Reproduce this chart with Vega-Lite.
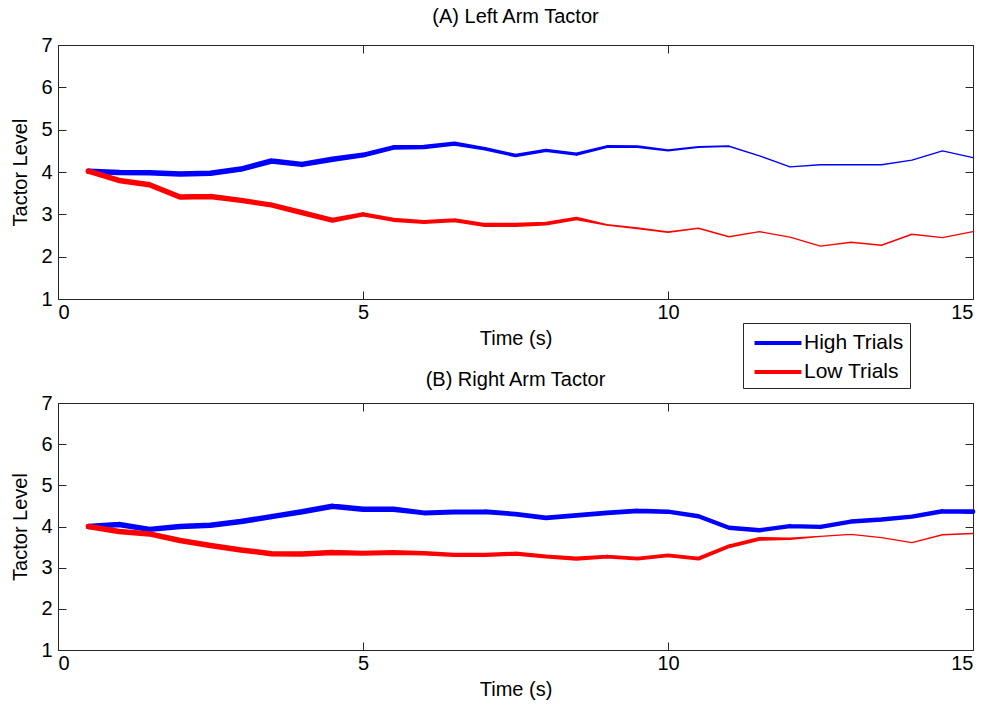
{
  "$schema": "https://vega.github.io/schema/vega-lite/v6.json",
  "background": "white",
  "padding": {"left": 10, "top": 7, "right": 5, "bottom": 5},
  "config": {
    "font": "Liberation Sans",
    "view": {"stroke": null},
    "axis": {"grid": false, "domainColor": "#262626", "tickColor": "#262626", "labelColor": "#000", "titleColor": "#000", "labelFontSize": 20, "titleFontSize": 20, "titleFontWeight": "normal", "tickSize": -8, "labelPadding": 14},
    "axisX": {"labelPadding": 11},
    "title": {"fontSize": 20, "fontWeight": "normal", "color": "#000"}
  },
  "datasets": {
    "tactor": [
      {"panel": "A", "group": "High Trials", "time": 0.5, "level": 4.02, "trials": 20},
      {"panel": "A", "group": "High Trials", "time": 1.0, "level": 3.99, "trials": 20},
      {"panel": "A", "group": "High Trials", "time": 1.5, "level": 3.98, "trials": 20},
      {"panel": "A", "group": "High Trials", "time": 2.0, "level": 3.95, "trials": 20},
      {"panel": "A", "group": "High Trials", "time": 2.5, "level": 3.97, "trials": 20},
      {"panel": "A", "group": "High Trials", "time": 3.0, "level": 4.07, "trials": 20},
      {"panel": "A", "group": "High Trials", "time": 3.5, "level": 4.26, "trials": 20},
      {"panel": "A", "group": "High Trials", "time": 4.0, "level": 4.18, "trials": 20},
      {"panel": "A", "group": "High Trials", "time": 4.5, "level": 4.30, "trials": 20},
      {"panel": "A", "group": "High Trials", "time": 5.0, "level": 4.40, "trials": 18},
      {"panel": "A", "group": "High Trials", "time": 5.5, "level": 4.58, "trials": 17},
      {"panel": "A", "group": "High Trials", "time": 6.0, "level": 4.59, "trials": 17},
      {"panel": "A", "group": "High Trials", "time": 6.5, "level": 4.67, "trials": 15},
      {"panel": "A", "group": "High Trials", "time": 7.0, "level": 4.55, "trials": 13},
      {"panel": "A", "group": "High Trials", "time": 7.5, "level": 4.39, "trials": 13},
      {"panel": "A", "group": "High Trials", "time": 8.0, "level": 4.51, "trials": 12},
      {"panel": "A", "group": "High Trials", "time": 8.5, "level": 4.42, "trials": 12},
      {"panel": "A", "group": "High Trials", "time": 9.0, "level": 4.60, "trials": 11},
      {"panel": "A", "group": "High Trials", "time": 9.5, "level": 4.60, "trials": 10},
      {"panel": "A", "group": "High Trials", "time": 10.0, "level": 4.51, "trials": 8},
      {"panel": "A", "group": "High Trials", "time": 10.5, "level": 4.59, "trials": 7},
      {"panel": "A", "group": "High Trials", "time": 11.0, "level": 4.61, "trials": 6},
      {"panel": "A", "group": "High Trials", "time": 11.5, "level": 4.38, "trials": 5},
      {"panel": "A", "group": "High Trials", "time": 12.0, "level": 4.12, "trials": 5},
      {"panel": "A", "group": "High Trials", "time": 12.5, "level": 4.17, "trials": 5},
      {"panel": "A", "group": "High Trials", "time": 13.0, "level": 4.17, "trials": 5},
      {"panel": "A", "group": "High Trials", "time": 13.5, "level": 4.17, "trials": 5},
      {"panel": "A", "group": "High Trials", "time": 14.0, "level": 4.28, "trials": 5},
      {"panel": "A", "group": "High Trials", "time": 14.5, "level": 4.50, "trials": 5},
      {"panel": "A", "group": "High Trials", "time": 15.0, "level": 4.34, "trials": 5},
      {"panel": "A", "group": "Low Trials", "time": 0.5, "level": 4.02, "trials": 20},
      {"panel": "A", "group": "Low Trials", "time": 1.0, "level": 3.80, "trials": 20},
      {"panel": "A", "group": "Low Trials", "time": 1.5, "level": 3.70, "trials": 20},
      {"panel": "A", "group": "Low Trials", "time": 2.0, "level": 3.41, "trials": 20},
      {"panel": "A", "group": "Low Trials", "time": 2.5, "level": 3.42, "trials": 20},
      {"panel": "A", "group": "Low Trials", "time": 3.0, "level": 3.33, "trials": 19},
      {"panel": "A", "group": "Low Trials", "time": 3.5, "level": 3.22, "trials": 19},
      {"panel": "A", "group": "Low Trials", "time": 4.0, "level": 3.04, "trials": 19},
      {"panel": "A", "group": "Low Trials", "time": 4.5, "level": 2.86, "trials": 18},
      {"panel": "A", "group": "Low Trials", "time": 5.0, "level": 3.00, "trials": 16},
      {"panel": "A", "group": "Low Trials", "time": 5.5, "level": 2.87, "trials": 15},
      {"panel": "A", "group": "Low Trials", "time": 6.0, "level": 2.82, "trials": 15},
      {"panel": "A", "group": "Low Trials", "time": 6.5, "level": 2.86, "trials": 15},
      {"panel": "A", "group": "Low Trials", "time": 7.0, "level": 2.75, "trials": 15},
      {"panel": "A", "group": "Low Trials", "time": 7.5, "level": 2.75, "trials": 15},
      {"panel": "A", "group": "Low Trials", "time": 8.0, "level": 2.78, "trials": 14},
      {"panel": "A", "group": "Low Trials", "time": 8.5, "level": 2.90, "trials": 13},
      {"panel": "A", "group": "Low Trials", "time": 9.0, "level": 2.75, "trials": 7},
      {"panel": "A", "group": "Low Trials", "time": 9.5, "level": 2.67, "trials": 7},
      {"panel": "A", "group": "Low Trials", "time": 10.0, "level": 2.58, "trials": 6},
      {"panel": "A", "group": "Low Trials", "time": 10.5, "level": 2.67, "trials": 6},
      {"panel": "A", "group": "Low Trials", "time": 11.0, "level": 2.47, "trials": 5},
      {"panel": "A", "group": "Low Trials", "time": 11.5, "level": 2.59, "trials": 5},
      {"panel": "A", "group": "Low Trials", "time": 12.0, "level": 2.46, "trials": 5},
      {"panel": "A", "group": "Low Trials", "time": 12.5, "level": 2.25, "trials": 5},
      {"panel": "A", "group": "Low Trials", "time": 13.0, "level": 2.34, "trials": 5},
      {"panel": "A", "group": "Low Trials", "time": 13.5, "level": 2.27, "trials": 5},
      {"panel": "A", "group": "Low Trials", "time": 14.0, "level": 2.53, "trials": 5},
      {"panel": "A", "group": "Low Trials", "time": 14.5, "level": 2.45, "trials": 5},
      {"panel": "A", "group": "Low Trials", "time": 15.0, "level": 2.59, "trials": 5},
      {"panel": "B", "group": "High Trials", "time": 0.5, "level": 4.00, "trials": 20},
      {"panel": "B", "group": "High Trials", "time": 1.0, "level": 4.05, "trials": 20},
      {"panel": "B", "group": "High Trials", "time": 1.5, "level": 3.93, "trials": 20},
      {"panel": "B", "group": "High Trials", "time": 2.0, "level": 4.00, "trials": 20},
      {"panel": "B", "group": "High Trials", "time": 2.5, "level": 4.03, "trials": 20},
      {"panel": "B", "group": "High Trials", "time": 3.0, "level": 4.12, "trials": 20},
      {"panel": "B", "group": "High Trials", "time": 3.5, "level": 4.24, "trials": 20},
      {"panel": "B", "group": "High Trials", "time": 4.0, "level": 4.36, "trials": 20},
      {"panel": "B", "group": "High Trials", "time": 4.5, "level": 4.49, "trials": 20},
      {"panel": "B", "group": "High Trials", "time": 5.0, "level": 4.42, "trials": 20},
      {"panel": "B", "group": "High Trials", "time": 5.5, "level": 4.42, "trials": 20},
      {"panel": "B", "group": "High Trials", "time": 6.0, "level": 4.33, "trials": 18},
      {"panel": "B", "group": "High Trials", "time": 6.5, "level": 4.35, "trials": 18},
      {"panel": "B", "group": "High Trials", "time": 7.0, "level": 4.36, "trials": 18},
      {"panel": "B", "group": "High Trials", "time": 7.5, "level": 4.30, "trials": 17},
      {"panel": "B", "group": "High Trials", "time": 8.0, "level": 4.21, "trials": 17},
      {"panel": "B", "group": "High Trials", "time": 8.5, "level": 4.27, "trials": 17},
      {"panel": "B", "group": "High Trials", "time": 9.0, "level": 4.33, "trials": 17},
      {"panel": "B", "group": "High Trials", "time": 9.5, "level": 4.38, "trials": 17},
      {"panel": "B", "group": "High Trials", "time": 10.0, "level": 4.36, "trials": 16},
      {"panel": "B", "group": "High Trials", "time": 10.5, "level": 4.25, "trials": 16},
      {"panel": "B", "group": "High Trials", "time": 11.0, "level": 3.97, "trials": 16},
      {"panel": "B", "group": "High Trials", "time": 11.5, "level": 3.91, "trials": 16},
      {"panel": "B", "group": "High Trials", "time": 12.0, "level": 4.01, "trials": 16},
      {"panel": "B", "group": "High Trials", "time": 12.5, "level": 3.99, "trials": 16},
      {"panel": "B", "group": "High Trials", "time": 13.0, "level": 4.12, "trials": 16},
      {"panel": "B", "group": "High Trials", "time": 13.5, "level": 4.17, "trials": 16},
      {"panel": "B", "group": "High Trials", "time": 14.0, "level": 4.24, "trials": 16},
      {"panel": "B", "group": "High Trials", "time": 14.5, "level": 4.37, "trials": 17},
      {"panel": "B", "group": "High Trials", "time": 15.0, "level": 4.36, "trials": 17},
      {"panel": "B", "group": "Low Trials", "time": 0.5, "level": 4.00, "trials": 20},
      {"panel": "B", "group": "Low Trials", "time": 1.0, "level": 3.88, "trials": 20},
      {"panel": "B", "group": "Low Trials", "time": 1.5, "level": 3.82, "trials": 20},
      {"panel": "B", "group": "Low Trials", "time": 2.0, "level": 3.66, "trials": 20},
      {"panel": "B", "group": "Low Trials", "time": 2.5, "level": 3.54, "trials": 20},
      {"panel": "B", "group": "Low Trials", "time": 3.0, "level": 3.43, "trials": 20},
      {"panel": "B", "group": "Low Trials", "time": 3.5, "level": 3.34, "trials": 20},
      {"panel": "B", "group": "Low Trials", "time": 4.0, "level": 3.33, "trials": 20},
      {"panel": "B", "group": "Low Trials", "time": 4.5, "level": 3.37, "trials": 20},
      {"panel": "B", "group": "Low Trials", "time": 5.0, "level": 3.35, "trials": 19},
      {"panel": "B", "group": "Low Trials", "time": 5.5, "level": 3.37, "trials": 18},
      {"panel": "B", "group": "Low Trials", "time": 6.0, "level": 3.35, "trials": 17},
      {"panel": "B", "group": "Low Trials", "time": 6.5, "level": 3.31, "trials": 16},
      {"panel": "B", "group": "Low Trials", "time": 7.0, "level": 3.31, "trials": 16},
      {"panel": "B", "group": "Low Trials", "time": 7.5, "level": 3.34, "trials": 15},
      {"panel": "B", "group": "Low Trials", "time": 8.0, "level": 3.27, "trials": 15},
      {"panel": "B", "group": "Low Trials", "time": 8.5, "level": 3.22, "trials": 15},
      {"panel": "B", "group": "Low Trials", "time": 9.0, "level": 3.27, "trials": 14},
      {"panel": "B", "group": "Low Trials", "time": 9.5, "level": 3.22, "trials": 14},
      {"panel": "B", "group": "Low Trials", "time": 10.0, "level": 3.30, "trials": 14},
      {"panel": "B", "group": "Low Trials", "time": 10.5, "level": 3.22, "trials": 14},
      {"panel": "B", "group": "Low Trials", "time": 11.0, "level": 3.52, "trials": 14},
      {"panel": "B", "group": "Low Trials", "time": 11.5, "level": 3.70, "trials": 14},
      {"panel": "B", "group": "Low Trials", "time": 12.0, "level": 3.70, "trials": 9},
      {"panel": "B", "group": "Low Trials", "time": 12.5, "level": 3.76, "trials": 5},
      {"panel": "B", "group": "Low Trials", "time": 13.0, "level": 3.81, "trials": 5},
      {"panel": "B", "group": "Low Trials", "time": 13.5, "level": 3.73, "trials": 5},
      {"panel": "B", "group": "Low Trials", "time": 14.0, "level": 3.61, "trials": 5},
      {"panel": "B", "group": "Low Trials", "time": 14.5, "level": 3.80, "trials": 5},
      {"panel": "B", "group": "Low Trials", "time": 15.0, "level": 3.83, "trials": 5}
    ]
  },
  "data": {"name": "tactor"},
  "spacing": 104,
  "bounds": "flush",
  "resolve": {"legend": {"color": "independent", "size": "independent"}},
  "vconcat": [
    {
      "width": 915,
      "height": 254,
      "title": {"text": "(A) Left Arm Tactor", "offset": 8},
      "transform": [{"filter": "datum.panel === 'A'"}],
      "layer": [
        {
          "mark": {"type": "trail"},
          "encoding": {
            "x": {"field": "time", "type": "quantitative", "scale": {"domain": [0, 15], "nice": false}, "axis": {"values": [0, 5, 10, 15], "title": "Time (s)", "titlePadding": 6}},
            "y": {"field": "level", "type": "quantitative", "scale": {"domain": [1, 7], "nice": false}, "axis": {"values": [1, 2, 3, 4, 5, 6, 7], "title": "Tactor Level", "titlePadding": 10}},
            "color": {"field": "group", "type": "nominal", "scale": {"domain": ["High Trials", "Low Trials"], "range": ["#0000ff", "#ff0000"]},
              "legend": {"orient": "none", "legendX": 685, "legendY": 278, "title": null, "strokeColor": "#262626", "fillColor": "#ffffff", "padding": 6, "labelFontSize": 21, "labelFont": "Liberation Sans", "labelColor": "#000", "symbolType": "M-2,0H2", "symbolStrokeWidth": 4, "symbolSize": 550, "symbolOffset": 15, "rowPadding": 5, "labelOffset": 12}},
            "size": {"field": "trials", "type": "quantitative", "scale": {"domain": [0, 20], "range": [0, 5.5]}, "legend": null},
            "order": {"field": "time", "type": "quantitative"}
          }
        },
        {
          "mark": {"type": "point", "opacity": 0},
          "encoding": {
            "x": {"field": "time", "type": "quantitative", "axis": {"orient": "top", "values": [0, 5, 10, 15], "labels": false, "title": null}},
            "y": {"field": "level", "type": "quantitative", "axis": {"orient": "right", "values": [1, 2, 3, 4, 5, 6, 7], "labels": false, "title": null}}
          }
        }
      ],
      "resolve": {"axis": {"x": "independent", "y": "independent"}}
    },
    {
      "width": 915,
      "height": 247,
      "title": {"text": "(B) Right Arm Tactor", "offset": 3},
      "transform": [{"filter": "datum.panel === 'B'"}],
      "layer": [
        {
          "mark": {"type": "trail"},
          "encoding": {
            "x": {"field": "time", "type": "quantitative", "scale": {"domain": [0, 15], "nice": false}, "axis": {"values": [0, 5, 10, 15], "title": "Time (s)", "titlePadding": 6}},
            "y": {"field": "level", "type": "quantitative", "scale": {"domain": [1, 7], "nice": false}, "axis": {"values": [1, 2, 3, 4, 5, 6, 7], "title": "Tactor Level", "titlePadding": 10}},
            "color": {"field": "group", "type": "nominal", "scale": {"domain": ["High Trials", "Low Trials"], "range": ["#0000ff", "#ff0000"]}, "legend": null},
            "size": {"field": "trials", "type": "quantitative", "scale": {"domain": [0, 20], "range": [0, 5.5]}, "legend": null},
            "order": {"field": "time", "type": "quantitative"}
          }
        },
        {
          "mark": {"type": "point", "opacity": 0},
          "encoding": {
            "x": {"field": "time", "type": "quantitative", "axis": {"orient": "top", "values": [0, 5, 10, 15], "labels": false, "title": null}},
            "y": {"field": "level", "type": "quantitative", "axis": {"orient": "right", "values": [1, 2, 3, 4, 5, 6, 7], "labels": false, "title": null}}
          }
        }
      ],
      "resolve": {"axis": {"x": "independent", "y": "independent"}}
    }
  ]
}
